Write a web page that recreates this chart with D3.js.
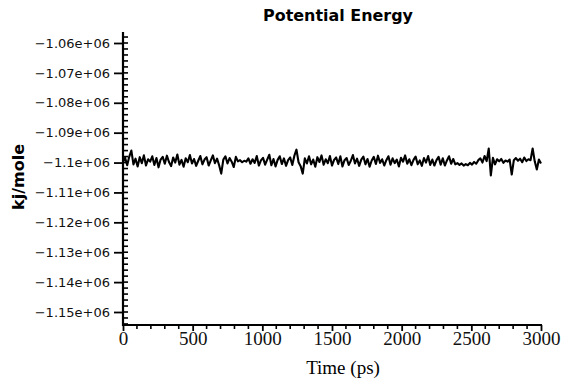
<!DOCTYPE html>
<html>
<head>
<meta charset="utf-8">
<script src="https://cdn.jsdelivr.net/npm/d3@7"></script>
<style>
  html, body { margin: 0; padding: 0; background: #fff; }
  svg { display: block; }
</style>
</head>
<body>
<div id="main"></div>
<script>
// time step of the trajectory (ps) and potential energy (kJ/mol)
const timeStep = 15;
const energy = [
  -1099800, -1098400, -1100900, -1098000, -1096000, -1100600, -1098700, -1101300, -1098200, -1100200,
  -1097600, -1101000, -1098900, -1099700, -1097900, -1100800, -1098500, -1101600, -1099000, -1098100,
  -1100400, -1097700, -1099800, -1101200, -1098300, -1100000, -1097300, -1100700, -1099100, -1101400,
  -1098600, -1099900, -1097500, -1100300, -1098800, -1101100, -1099400, -1097800, -1100600, -1099000,
  -1098200, -1101000, -1099300, -1097600, -1100200, -1098700, -1100900, -1103700, -1099000, -1097900,
  -1100300, -1098500, -1099700, -1101500, -1098100, -1099600, -1099200, -1099900, -1099400, -1099700,
  -1098600, -1100400, -1098900, -1100100, -1097800, -1101000, -1099300, -1098400, -1100700, -1099000,
  -1097400, -1100900, -1098800, -1101300, -1099100, -1097900, -1100500, -1098600, -1101100, -1099200,
  -1098300, -1100800, -1097700, -1095700, -1099900, -1101200, -1103700, -1098600, -1100300, -1097900,
  -1100600, -1099000, -1101400, -1098200, -1099800, -1097600, -1100700, -1098900, -1100200, -1097800,
  -1101000, -1099100, -1098300, -1100500, -1097900, -1101300, -1099200, -1098500, -1100800, -1099400,
  -1097500, -1100300, -1098700, -1101100, -1099000, -1098000, -1100600, -1098800, -1101400, -1099300,
  -1098100, -1100500, -1097700, -1100100, -1098900, -1101000, -1099200, -1097900, -1100700, -1098600,
  -1100200, -1099000, -1101300, -1098400, -1099700, -1097600, -1100400, -1098900, -1100900, -1099100,
  -1098000, -1100600, -1099300, -1101100, -1098500, -1100000, -1097800, -1100800, -1099000, -1101000,
  -1099200, -1098100, -1100700, -1098600, -1101000, -1099300, -1097900, -1100400, -1098800, -1100600,
  -1100200, -1100800, -1100300, -1101000, -1100500, -1100900, -1100100, -1100700, -1099800, -1100400,
  -1099200, -1098600, -1100000, -1097800, -1099500, -1095300, -1104300, -1098400, -1100600, -1098900,
  -1099600, -1098800, -1100100, -1099300, -1099700, -1099000, -1104000, -1099200, -1098500, -1099400,
  -1098700, -1099900, -1098300, -1099500, -1098900, -1099200, -1095300, -1099600, -1102300, -1099000,
  -1100300
];
const xTicks = [0, 500, 1000, 1500, 2000, 2500, 3000];
const yTicks = [-1.06e6, -1.07e6, -1.08e6, -1.09e6, -1.1e6, -1.11e6, -1.12e6, -1.13e6, -1.14e6, -1.15e6];
const yLabels = ['−1.06e+06', '−1.07e+06', '−1.08e+06', '−1.09e+06', '−1.1e+06',
                 '−1.11e+06', '−1.12e+06', '−1.13e+06', '−1.14e+06', '−1.15e+06'];

const
  W = 569,
  H = 379,
  plotLeft = 123,
  plotRight = 541,
  plotTop = 32,
  plotBottom = 325;

const svg = d3.select('#main')
  .append('svg')
  .attr('width', W)
  .attr('height', H);

const x = d3.scaleLinear().domain([0, 3000]).range([plotLeft, plotRight]);
const y = d3.scaleLinear().domain([-1.15435e6, -1.05632e6]).range([plotBottom, plotTop]);

// y axis: major ticks outward, minor ticks inward
const yAxis = svg.append('g')
  .attr('transform', `translate(${plotLeft},0)`)
  .call(d3.axisLeft(y).tickValues(yTicks).tickSize(9).tickPadding(4)
    .tickFormat((d, i) => yLabels[i]));
yAxis.select('.domain').remove();
yAxis.selectAll('text')
  .attr('font-family', 'DejaVu Sans, Verdana, sans-serif')
  .attr('font-size', 13)
  .attr('fill', '#111');
yAxis.selectAll('line').attr('stroke', '#000').attr('stroke-width', 1.8);

const yMinor = d3.range(-1.154e6, -1.056e6, 2000);
svg.append('g')
  .selectAll('line')
  .data(yMinor)
  .enter()
  .append('line')
    .attr('x1', plotLeft)
    .attr('x2', plotLeft + 5)
    .attr('y1', d => y(d))
    .attr('y2', d => y(d))
    .attr('stroke', '#000')
    .attr('stroke-width', 1.6);

// x axis
const xAxis = svg.append('g')
  .attr('transform', `translate(0,${plotBottom})`)
  .call(d3.axisBottom(x).tickValues(xTicks).tickSize(6).tickPadding(1).tickFormat(d3.format('d')));
xAxis.select('.domain').remove();
xAxis.selectAll('text')
  .attr('font-family', 'Liberation Serif, Times New Roman, serif')
  .attr('font-size', 19)
  .attr('fill', '#111');
xAxis.selectAll('line').attr('stroke', '#000').attr('stroke-width', 1.8);

const xMinor = d3.range(100, 3000, 100).filter(d => d % 500 !== 0);
svg.append('g')
  .selectAll('line')
  .data(xMinor)
  .enter()
  .append('line')
    .attr('x1', d => x(d))
    .attr('x2', d => x(d))
    .attr('y1', plotBottom)
    .attr('y2', plotBottom + 4)
    .attr('stroke', '#000')
    .attr('stroke-width', 1.6);

// axis lines
svg.append('line')
  .attr('x1', plotLeft).attr('x2', plotLeft)
  .attr('y1', plotTop).attr('y2', plotBottom + 1)
  .attr('stroke', '#000').attr('stroke-width', 2.2);
svg.append('line')
  .attr('x1', plotLeft - 1).attr('x2', plotRight + 1)
  .attr('y1', plotBottom).attr('y2', plotBottom)
  .attr('stroke', '#000').attr('stroke-width', 2.2);

// energy trace
const line = d3.line()
  .x((d, i) => x(i * timeStep))
  .y(d => y(d));
svg.append('path')
  .datum(energy)
  .attr('d', line)
  .attr('fill', 'none')
  .attr('stroke', '#000')
  .attr('stroke-width', 2.1)
  .attr('stroke-linejoin', 'round');

// title and axis labels
svg.append('text')
  .text('Potential Energy')
  .attr('x', 338)
  .attr('y', 21)
  .attr('text-anchor', 'middle')
  .attr('font-family', 'DejaVu Sans, Verdana, sans-serif')
  .attr('font-weight', 'bold')
  .attr('font-size', 15)
  .attr('textLength', 150)
  .attr('lengthAdjust', 'spacingAndGlyphs');

svg.append('text')
  .text('kj/mole')
  .attr('transform', 'translate(24,177) rotate(-90)')
  .attr('text-anchor', 'middle')
  .attr('font-family', 'DejaVu Sans, Verdana, sans-serif')
  .attr('font-weight', 'bold')
  .attr('font-size', 16);

svg.append('text')
  .text('Time (ps)')
  .attr('x', 343)
  .attr('y', 374)
  .attr('text-anchor', 'middle')
  .attr('font-family', 'Liberation Serif, Times New Roman, serif')
  .attr('font-size', 19);
</script>
</body>
</html>
